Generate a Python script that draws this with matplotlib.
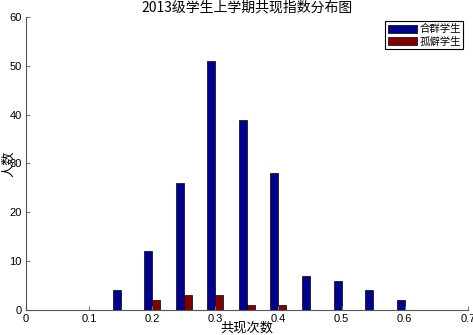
import numpy as np
import matplotlib.pyplot as plt

plt.rcParams['font.family'] = ['Liberation Sans', 'Noto Sans CJK SC', 'DejaVu Sans']

# 共现指数分组
x_groups = [0.15, 0.20, 0.25, 0.30, 0.35, 0.40, 0.45, 0.50, 0.55, 0.60]
social = [4, 12, 26, 51, 39, 28, 7, 6, 4, 2]      # 合群学生
lonely = [0, 2, 3, 3, 1, 1, 0, 0, 0, 0]           # 孤僻学生
labels = ['合群学生', '孤僻学生']
title = '2013级学生上学期共现指数分布图'

cjk = ['Noto Sans CJK SC', 'DejaVu Sans']
w = 0.0127
x = np.array(x_groups)

fig = plt.figure(figsize=(4.73, 3.35), dpi=100)
ax = fig.add_axes([0.055, 0.075, 0.934, 0.874])

ax.bar(x - w / 2, social, width=w, color='#00008f', edgecolor='black', linewidth=0.5, label=labels[0])
ax.bar(x + w / 2, lonely, width=w, color='#800000', edgecolor='black', linewidth=0.5, label=labels[1])

ax.set_xlim(0, 0.7)
ax.set_ylim(0, 60)
ax.set_xticks(np.arange(0, 0.71, 0.1))
ax.set_xticklabels(['0', '0.1', '0.2', '0.3', '0.4', '0.5', '0.6', '0.7'])
ax.set_yticks(range(0, 61, 10))

for s in ['top', 'right']:
    ax.spines[s].set_visible(False)
for s in ['left', 'bottom']:
    ax.spines[s].set_color('#555555')
    ax.spines[s].set_linewidth(0.8)
ax.tick_params(direction='in', length=3, width=0.8, color='#777777', labelsize=8, pad=3)

ax.set_title(title, family=cjk, fontsize=10, pad=4)
ax.set_xlabel('共现次数', family=cjk, fontsize=9.5, labelpad=-2)
ax.set_ylabel('人数', family=cjk, fontsize=9.5, labelpad=-4)

leg = ax.legend(prop={'family': cjk, 'size': 7.5}, loc='upper right',
                bbox_to_anchor=(0.99, 0.985), fancybox=False, framealpha=1,
                borderpad=0.25, handlelength=2.8, handleheight=0.8,
                handletextpad=0.2, labelspacing=0.2, borderaxespad=0)
leg.get_frame().set_edgecolor('black')
leg.get_frame().set_linewidth(0.8)

fig.savefig('out.png', dpi=100)
